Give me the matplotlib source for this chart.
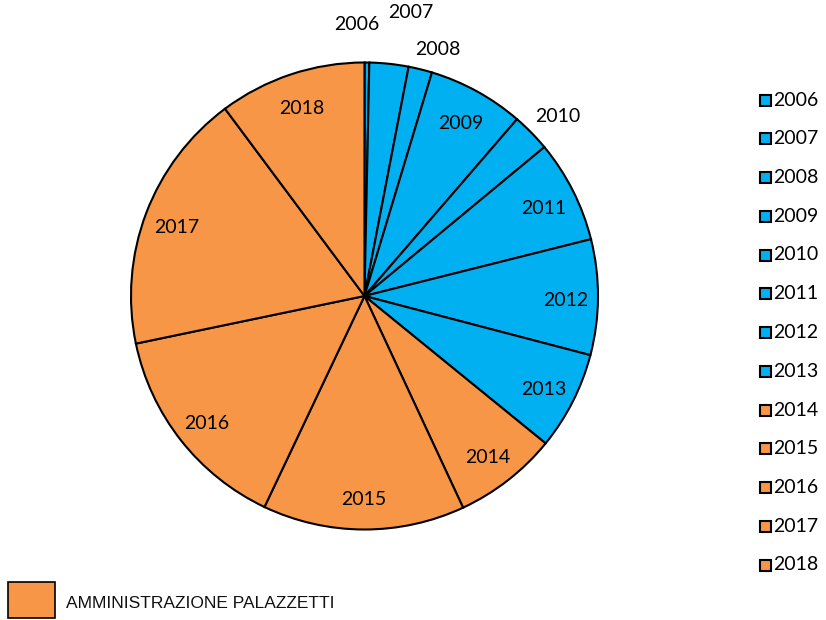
import numpy as np
import matplotlib.pyplot as plt
from matplotlib.patches import Rectangle

# share of each year (percent of the whole pie)
years = ['2006', '2007', '2008', '2009', '2010', '2011', '2012',
         '2013', '2014', '2015', '2016', '2017', '2018']
shares = [0.33, 2.7, 1.64, 6.67, 2.67, 7.1, 8.0, 6.8, 7.2, 14.0, 14.7, 18.1, 10.2]
group = ['old'] * 8 + ['new'] * 5
legend_title = 'AMMINISTRAZIONE PALAZZETTI'

blue = '#00B0F0'
orange = '#F79646'
colors = [blue if g == 'old' else orange for g in group]

# labels placed outside the pie: (radius factor, clockwise angle from top in deg)
outside = {'2006': (1.165, -1.7), '2007': (1.23, 9.2), '2008': (1.10, 16.5), '2010': (1.13, 47.0)}

plt.rcParams['font.family'] = ['Lato', 'DejaVu Sans']

W, H = 826, 620
fig = plt.figure(figsize=(W / 100, H / 100), dpi=100)
ax = fig.add_axes([0, 0, 1, 1])

cx, cy, R = 364.5, H - 296, 233.5
wedges, _ = ax.pie(shares, colors=colors, startangle=90, counterclock=False,
                   center=(cx, cy), radius=R, frame=True,
                   wedgeprops=dict(edgecolor='black', linewidth=1.5))
ax.set_xlim(0, W)
ax.set_ylim(0, H)
ax.set_aspect('equal')
ax.axis('off')

for w, yr in zip(wedges, years):
    if yr in outside:
        f, a = outside[yr]
        ang = np.deg2rad(90 - a)
        x, y = cx + f * R * np.cos(ang), cy + f * R * np.sin(ang)
    else:
        ang = np.deg2rad((w.theta1 + w.theta2) / 2)
        x, y = cx + 0.86 * R * np.cos(ang), cy + 0.86 * R * np.sin(ang) - 3
    ax.text(x, y, yr, ha='center', va='center', fontsize=14, color='black')

# legend on the right
for i, (yr, c) in enumerate(zip(years, colors)):
    y = H - (100 + i * 38.75)
    ax.add_patch(Rectangle((760, y - 5.5), 11, 11, facecolor=c,
                           edgecolor='black', linewidth=1.5))
    ax.text(773, y, yr, ha='left', va='center', fontsize=14)

# bottom legend box
ax.add_patch(Rectangle((8, H - 618), 47, 36, facecolor=orange,
                       edgecolor='black', linewidth=1.2))
ax.text(66, H - 603, legend_title, ha='left', va='center', fontsize=12.5,
        family='Liberation Sans', color='#111111')

fig.savefig('out.png', dpi=100)
